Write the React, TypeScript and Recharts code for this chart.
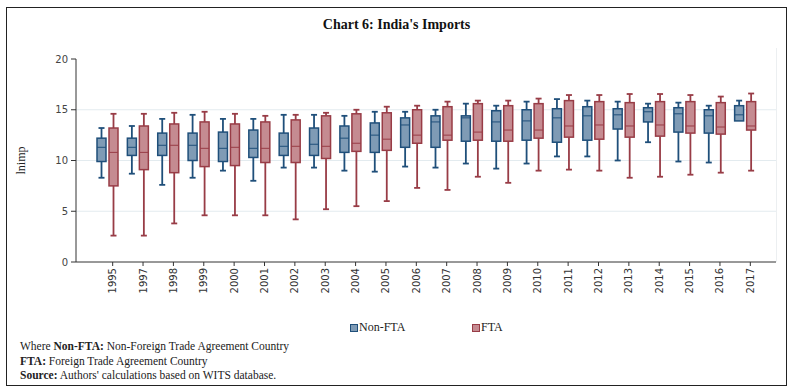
import React from 'react'
import { ComposedChart, Bar, XAxis, YAxis, CartesianGrid } from 'recharts'

const years = ['1995', '1997', '1998', '1999', '2000', '2001', '2002', '2003', '2004', '2005', '2006', '2007', '2008', '2009', '2010', '2011', '2012', '2013', '2014', '2015', '2016', '2017']

// Non-FTA box stats (lower whisker, q1, median, q3, upper whisker)
const nonMin = [8.3, 8.7, 7.6, 8.3, 9.0, 8.0, 9.3, 9.3, 9.0, 8.9, 9.4, 9.3, 9.7, 9.2, 9.7, 10.4, 10.4, 10.0, 11.8, 9.9, 9.8, 13.9]
const nonQ1 = [9.9, 10.5, 10.5, 10.0, 9.9, 10.3, 10.5, 10.5, 10.8, 10.8, 11.3, 11.3, 11.9, 11.9, 12.0, 11.8, 12.0, 13.1, 13.8, 12.8, 12.7, 13.9]
const nonMed = [11.3, 11.3, 11.5, 11.5, 11.2, 11.2, 11.4, 11.6, 12.2, 12.5, 13.5, 13.8, 14.2, 13.8, 13.9, 14.2, 14.4, 14.5, 14.8, 14.6, 14.4, 14.5]
const nonQ3 = [12.2, 12.2, 12.7, 12.7, 12.8, 13.0, 12.7, 13.2, 13.4, 13.7, 14.2, 14.4, 14.4, 14.9, 15.0, 15.1, 15.3, 15.1, 15.2, 15.2, 15.0, 15.4]
const nonMax = [13.2, 13.4, 14.1, 14.5, 14.1, 14.1, 14.5, 14.5, 14.4, 14.8, 14.8, 15.0, 15.6, 15.4, 15.8, 16.05, 15.9, 15.8, 15.6, 15.7, 15.4, 15.9]

// FTA box stats
const ftaMin = [2.6, 2.6, 3.8, 4.6, 4.6, 4.6, 4.2, 5.2, 5.5, 6.0, 7.3, 7.1, 8.4, 7.8, 9.0, 9.1, 9.0, 8.3, 8.4, 8.6, 8.8, 9.0]
const ftaQ1 = [7.5, 9.1, 8.8, 9.4, 9.5, 9.8, 9.8, 10.2, 10.9, 11.0, 11.7, 12.0, 12.0, 11.9, 12.2, 12.3, 12.1, 12.3, 12.4, 12.7, 12.6, 13.0]
const ftaMed = [10.8, 10.8, 11.5, 11.2, 11.3, 11.2, 11.4, 11.4, 11.7, 12.1, 12.5, 12.5, 12.8, 13.0, 13.0, 13.4, 13.5, 13.4, 13.5, 13.4, 13.3, 13.4]
const ftaQ3 = [13.2, 13.4, 13.6, 13.8, 13.6, 13.8, 14.0, 14.4, 14.6, 14.7, 15.0, 15.3, 15.6, 15.4, 15.6, 15.9, 15.8, 15.7, 15.8, 15.8, 15.7, 15.8]
const ftaMax = [14.6, 14.6, 14.7, 14.8, 14.6, 14.4, 14.5, 14.7, 15.0, 15.3, 15.4, 15.8, 15.9, 15.9, 16.1, 16.45, 16.45, 16.55, 16.55, 16.45, 16.3, 16.6]

const yTicks = [0, 5, 10, 15, 20]

const NON_STROKE = '#1f4f7a'
const NON_FILL = '#7f9bb5'
const FTA_STROKE = '#983c46'
const FTA_FILL = '#c58b91'

type Stats = { min: number; q1: number; med: number; q3: number; max: number }

const data = years.map((year, i) => ({
  year,
  non: { min: nonMin[i], q1: nonQ1[i], med: nonMed[i], q3: nonQ3[i], max: nonMax[i] },
  fta: { min: ftaMin[i], q1: ftaQ1[i], med: ftaMed[i], q3: ftaQ3[i], max: ftaMax[i] },
}))

// bar is drawn over [min, max]; the rest is placed on the same linear scale
const makeBox = (kind: 'non' | 'fta', stroke: string, fill: string) => (props: any) => {
  const { x, y, width, height, payload } = props
  const s: Stats = payload[kind]
  const k = height / (s.max - s.min)
  const py = (v: number) => y + (s.max - v) * k
  const cx = x + width / 2
  const cap = 3
  return (
    <g>
      <line x1={cx} x2={cx} y1={py(s.max)} y2={py(s.q3)} stroke={stroke} strokeWidth={1.8} />
      <line x1={cx} x2={cx} y1={py(s.q1)} y2={py(s.min)} stroke={stroke} strokeWidth={1.8} />
      <line x1={cx - cap} x2={cx + cap} y1={py(s.max)} y2={py(s.max)} stroke={stroke} strokeWidth={1.8} />
      {s.min < s.q1 && (
        <line x1={cx - cap} x2={cx + cap} y1={py(s.min)} y2={py(s.min)} stroke={stroke} strokeWidth={1.8} />
      )}
      <rect x={x} y={py(s.q3)} width={width} height={py(s.q1) - py(s.q3)} fill={fill} stroke={stroke} strokeWidth={1.5} />
      <line x1={x} x2={x + width} y1={py(s.med)} y2={py(s.med)} stroke={stroke} strokeWidth={1} />
    </g>
  )
}

const YearTick = (props: any) => {
  const { x, y, payload } = props
  const tx = x + 5.5
  return (
    <g>
      <line x1={tx} x2={tx} y1={y - 6} y2={y - 2} stroke="#333" strokeWidth={1} />
      <text
        x={tx}
        y={y}
        dy="0.35em"
        transform={`rotate(-90, ${tx}, ${y})`}
        textAnchor="end"
        fontFamily="DejaVu Sans"
        fontSize={10}
        fill="#333"
      >
        {payload.value}
      </text>
    </g>
  )
}

const serif = '"Liberation Serif", "DejaVu Serif", serif'

export default function App() {
  return (
    <div style={{ position: 'absolute', left: 0, top: 0, width: 793, height: 390, background: '#fff', fontFamily: serif }}>
      <div style={{ position: 'absolute', left: 6, top: 7, width: 779, height: 377, border: '1px solid #222' }} />
      <div style={{ position: 'absolute', left: 0, top: 17, width: 793, textAlign: 'center', fontWeight: 'bold', fontSize: 14, color: '#111' }}>
        Chart 6: India's Imports
      </div>
      <div style={{ position: 'absolute', left: 776, top: 48, width: 1, height: 214, background: '#eceff1' }} />
      <div style={{ position: 'absolute', left: 0, top: 0 }}>
        <ComposedChart
          width={793}
          height={390}
          data={data}
          margin={{ top: 59, right: 17, bottom: 98, left: 16 }}
          barGap={3}
        >
          <CartesianGrid horizontal vertical={false} horizontalValues={[5, 10, 15]} stroke="#e3ebef" />
          <XAxis
            dataKey="year"
            interval={0}
            height={30}
            padding={{ left: 16, right: 16 }}
            tickSize={4}
            tickMargin={2}
            tickLine={false}
            axisLine={{ stroke: '#333' }}
            tick={<YearTick />}
          />
          <YAxis
            domain={[0, 20]}
            ticks={yTicks}
            width={60}
            tickSize={5}
            tickMargin={3}
            axisLine={{ stroke: '#333' }}
            tickLine={{ stroke: '#333' }}
            tick={{ fontFamily: 'DejaVu Sans', fontSize: 10, fill: '#444' }}
            label={{ value: 'lnimp', angle: -90, position: 'insideLeft', offset: 5, style: { fontFamily: serif, fontSize: 12, fill: '#222', textAnchor: 'middle' } }}
          />
          <Bar
            dataKey={(d: any) => [d.non.min, d.non.max]}
            name="Non-FTA"
            barSize={9}
            isAnimationActive={false}
            shape={makeBox('non', NON_STROKE, NON_FILL)}
          />
          <Bar
            dataKey={(d: any) => [d.fta.min, d.fta.max]}
            name="FTA"
            barSize={9}
            isAnimationActive={false}
            shape={makeBox('fta', FTA_STROKE, FTA_FILL)}
          />
        </ComposedChart>
      </div>
      <div style={{ position: 'absolute', left: 350, top: 320, fontSize: 12, color: '#222', display: 'flex', alignItems: 'center' }}>
        <span style={{ display: 'inline-block', width: 6, height: 6, background: NON_FILL, border: `1px solid ${NON_STROKE}`, marginRight: 1 }} />
        Non-FTA
      </div>
      <div style={{ position: 'absolute', left: 472, top: 320, fontSize: 12, color: '#222', display: 'flex', alignItems: 'center' }}>
        <span style={{ display: 'inline-block', width: 6, height: 6, background: FTA_FILL, border: `1px solid ${FTA_STROKE}`, marginRight: 1 }} />
        FTA
      </div>
      <div style={{ position: 'absolute', left: 20, top: 339, fontSize: 11.5, lineHeight: '14.5px', color: '#222' }}>
        <div>Where <b>Non-FTA:</b> Non-Foreign Trade Agreement Country</div>
        <div><b>FTA:</b> Foreign Trade Agreement Country</div>
        <div><b>Source:</b> Authors' calculations based on WITS database.</div>
      </div>
    </div>
  )
}
